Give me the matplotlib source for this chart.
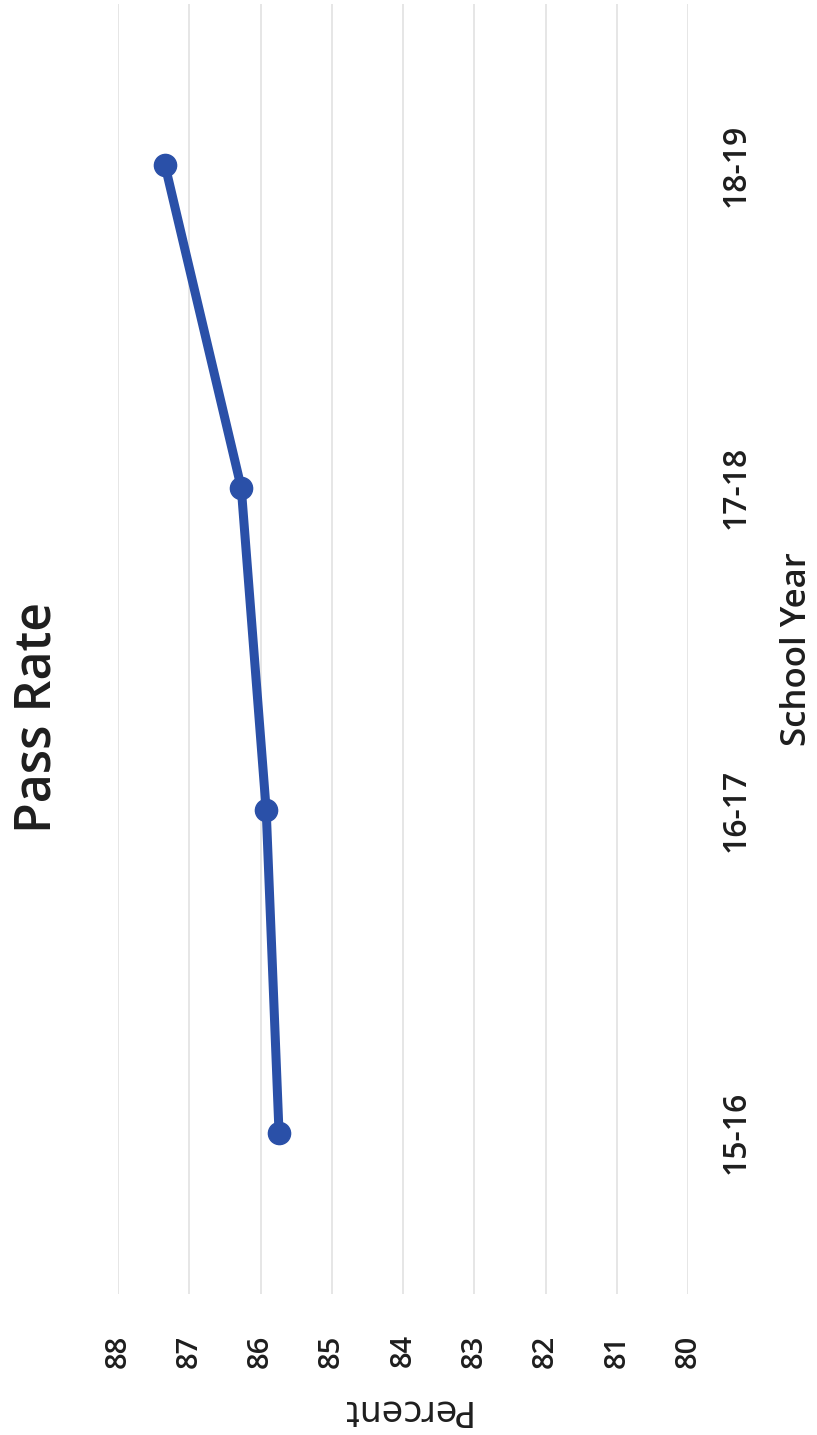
import matplotlib
matplotlib.use("Agg")
import matplotlib.pyplot as plt

years = ["15-16", "16-17", "17-18", "18-19"]
pass_rate = [85.74, 85.92, 86.27, 87.34]
pct_ticks = [88, 87, 86, 85, 84, 83, 82, 81, 80]

W, H = 817, 1435
fig = plt.figure(figsize=(W / 100, H / 100), dpi=100)
fig.patch.set_facecolor("white")

def fx(px):
    return px / W

def fy(py):
    return 1 - py / H

TXT = "#1e1e1e"

ax = fig.add_axes([fx(118), fy(1294), fx(688) - fx(118), fy(4) - fy(1294)])
ax.set_xlim(88, 80)
ax.set_ylim(-0.5, len(years) - 0.5)
for s in ax.spines.values():
    s.set_visible(False)

ax.set_xticks(pct_ticks)
ax.set_xticklabels([str(t) for t in pct_ticks], rotation=90, fontsize=21,
                   family="Open Sans", color=TXT, fontweight="semibold")
ax.grid(axis="x", color="#e2e2e2", linewidth=1.2)
ax.set_axisbelow(True)
ax.tick_params(axis="x", length=0, pad=29)

ax.yaxis.tick_right()
ax.set_yticks(range(len(years)))
ax.set_yticklabels(years, rotation=90, fontsize=23, family="Open Sans",
                   color=TXT, va="center", fontweight="semibold")
ax.tick_params(axis="y", length=0, pad=23)

ax.plot(pass_rate, range(len(years)), color="#2a50a8", linewidth=6.5,
        marker="o", markersize=16, solid_capstyle="round")

fig.text(fx(38), fy(718), "Pass Rate", rotation=90, fontsize=36,
         family="Open Sans", color=TXT, ha="center", va="center",
         fontweight="semibold")
fig.text(fx(797), fy(649), "School Year", rotation=90, fontsize=25,
         family="Open Sans", color=TXT, ha="center", va="center",
         fontweight="semibold")
fig.text(fx(404), fy(1410), "Percent", rotation=180, fontsize=25,
         family="DejaVu Sans", color=TXT, ha="center", va="center")

fig.savefig("out.png", dpi=100, facecolor="white")
